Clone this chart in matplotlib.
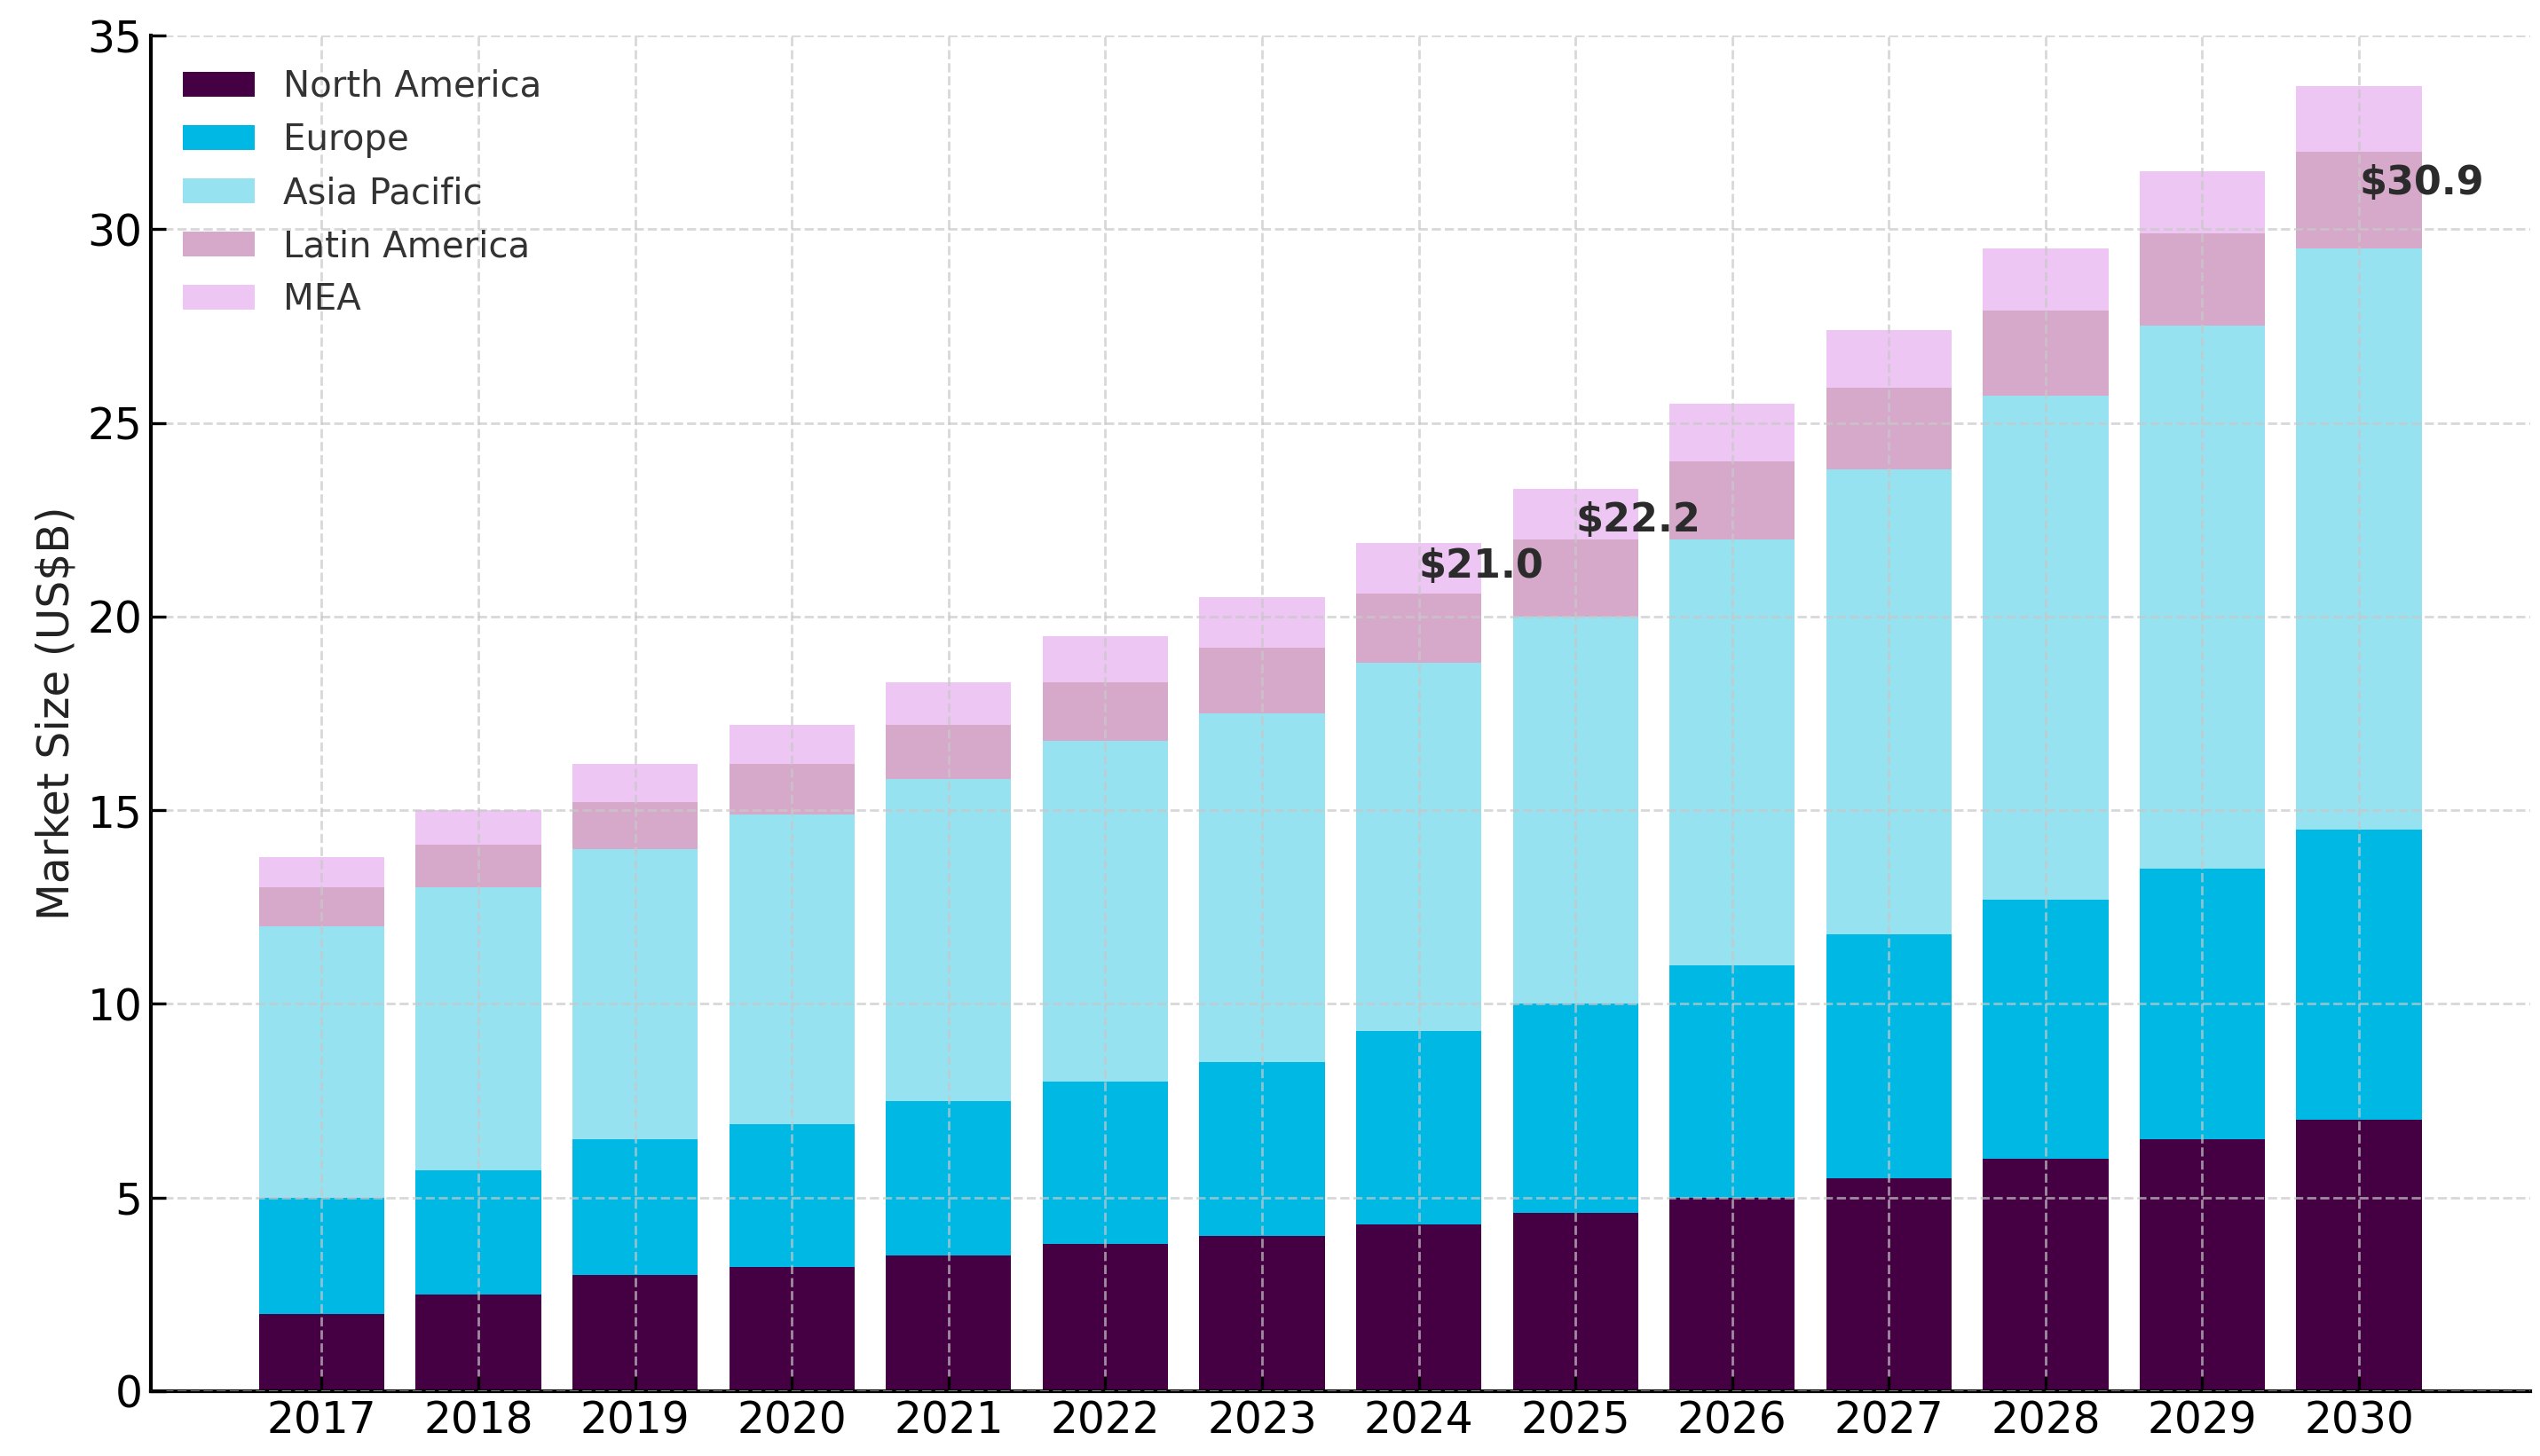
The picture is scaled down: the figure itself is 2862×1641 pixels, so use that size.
import matplotlib
matplotlib.use('Agg')
import matplotlib.pyplot as plt
import numpy as np

years = ['2017', '2018', '2019', '2020', '2021', '2022', '2023',
         '2024', '2025', '2026', '2027', '2028', '2029', '2030']
regions = ['North America', 'Europe', 'Asia Pacific', 'Latin America', 'MEA']

# segment sizes (US$B)
north_america = [2.0, 2.5, 3.0, 3.2, 3.5, 3.8, 4.0, 4.3, 4.6, 5.0, 5.5, 6.0, 6.5, 7.0]
europe        = [3.0, 3.2, 3.5, 3.7, 4.0, 4.2, 4.5, 5.0, 5.4, 6.0, 6.3, 6.7, 7.0, 7.5]
asia_pacific  = [7.0, 7.3, 7.5, 8.0, 8.3, 8.8, 9.0, 9.5, 10.0, 11.0, 12.0, 13.0, 14.0, 15.0]
latin_america = [1.0, 1.1, 1.2, 1.3, 1.4, 1.5, 1.7, 1.8, 2.0, 2.0, 2.1, 2.2, 2.4, 2.5]
mea           = [0.8, 0.9, 1.0, 1.0, 1.1, 1.2, 1.3, 1.3, 1.3, 1.5, 1.5, 1.6, 1.6, 1.7]

colors = ['#440042', '#00B8E4', '#96E2F1', '#D6A9CB', '#EEC6F4']

# callouts placed at the bar centre of these years
callout_years = ['2024', '2025', '2030']
callout_values = [21.0, 22.2, 30.9]

fig = plt.figure(figsize=(14.31, 8.205), dpi=200)
ax = fig.add_axes([0.0594, 0.0445, 0.9366, 0.9311])

x = np.arange(len(years))
bottom = np.zeros(len(years))
for name, vals, col in zip(regions,
                           [north_america, europe, asia_pacific, latin_america, mea],
                           colors):
    ax.bar(x, vals, width=0.8, bottom=bottom, color=col, label=name, zorder=1)
    bottom += np.array(vals)

for yr, v in zip(callout_years, callout_values):
    ax.text(years.index(yr), v, f'${v:.1f}', ha='left', va='baseline',
            fontsize=16, fontweight='bold', color='#2b2b2b', zorder=5)

ax.set_xticks(x)
ax.set_xticklabels(years)
ax.set_ylim(0, 35)
ax.set_yticks(np.arange(0, 36, 5))
ax.set_ylabel('Market Size (US$B)', fontsize=17.5, color='#222222')
ax.tick_params(axis='both', labelsize=17.5, direction='in', length=6, width=1.2)

ax.grid(True, linestyle='--', color='#c8c8c8', linewidth=1.0, alpha=0.7, zorder=3)
ax.set_axisbelow(False)
for s in ['top', 'right']:
    ax.spines[s].set_visible(False)
for s in ['left', 'bottom']:
    ax.spines[s].set_linewidth(1.5)

leg = ax.legend(loc='upper left', frameon=False, fontsize=14.5,
                bbox_to_anchor=(0.0, 0.999), borderaxespad=0.5,
                labelspacing=0.5)
for t in leg.get_texts():
    t.set_color('#333333')

fig.savefig('out.png', dpi=200)
